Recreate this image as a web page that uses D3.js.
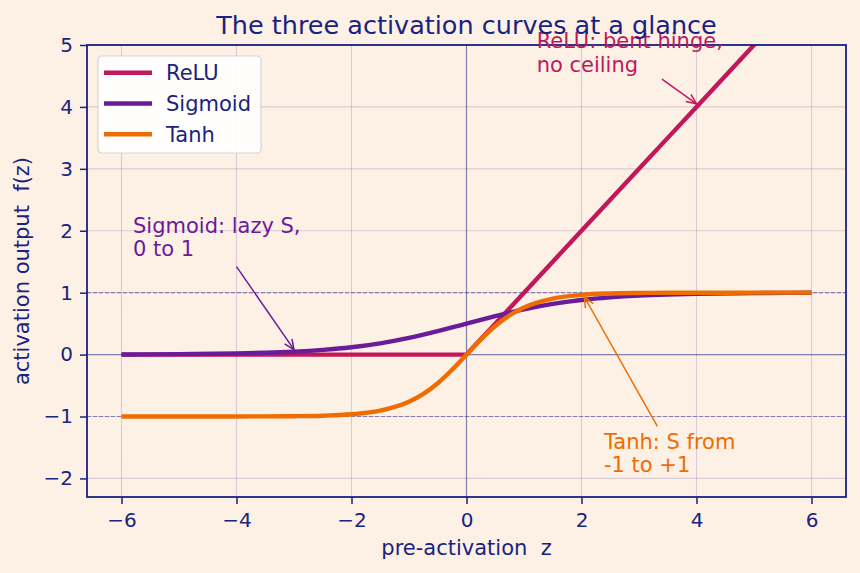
<!DOCTYPE html>
<html>
<head>
<meta charset="utf-8">
<script src="https://cdn.jsdelivr.net/npm/d3@7"></script>
<style>
  body { margin: 0; background: #fdf1e6; }
  text { font-family: "DejaVu Sans", sans-serif; white-space: pre; }
</style>
</head>
<body>
<div id="chart"></div>
<script>
// values
var zValues = [-6, -5, -4, -3.5, -3, -2.5, -2, -1.5, -1, -0.75, -0.5, -0.25, 0, 0.25, 0.5, 0.75, 1, 1.5, 2, 2.5, 3, 3.5, 4, 5, 6];
var reluValues = [0, 0, 0, 0, 0, 0, 0, 0, 0, 0, 0, 0, 0, 0.25, 0.5, 0.75, 1, 1.5, 2, 2.5, 3, 3.5, 4, 5, 6];
var sigmoidValues = [0.002, 0.007, 0.018, 0.029, 0.047, 0.076, 0.119, 0.182, 0.269, 0.321, 0.378, 0.438, 0.5, 0.562, 0.622, 0.679, 0.731, 0.818, 0.881, 0.924, 0.953, 0.971, 0.982, 0.993, 0.998];
var tanhValues = [-1.0, -1.0, -0.999, -0.998, -0.995, -0.987, -0.964, -0.905, -0.762, -0.635, -0.462, -0.245, 0, 0.245, 0.462, 0.635, 0.762, 0.905, 0.964, 0.987, 0.995, 0.998, 0.999, 1.0, 1.0];

var seriesNames = ["ReLU", "Sigmoid", "Tanh"];
var seriesColors = ["#c2185b", "#6a1b9a", "#ef6c00"];
var xTicks = [-6, -4, -2, 0, 2, 4, 6];
var yTicks = [-2, -1, 0, 1, 2, 3, 4, 5];

var svgWidth = 860;
var svgHeight = 573;
var margin = { top: 45, right: 14, bottom: 76, left: 87 };
var width = svgWidth - margin.left - margin.right;
var height = svgHeight - margin.top - margin.bottom;
var ink = "#1a237e";

var svg = d3.select("#chart")
  .append("svg")
  .attr("width", svgWidth)
  .attr("height", svgHeight);

svg.append("rect").attr("width", svgWidth).attr("height", svgHeight).attr("fill", "#fdf1e6");

var chartGroup = svg.append("g")
  .attr("transform", `translate(${margin.left}, ${margin.top})`);

var x = d3.scaleLinear().domain([-6.6, 6.6]).range([0, width]);
var y = d3.scaleLinear().domain([-2.3, 5]).range([height, 0]);

// grid
chartGroup.append("g")
  .selectAll("line")
  .data(xTicks)
  .enter()
  .append("line")
  .attr("x1", d => x(d)).attr("x2", d => x(d))
  .attr("y1", 0).attr("y2", height)
  .attr("stroke", "#8e6fa8").attr("stroke-opacity", 0.3).attr("stroke-width", 1.1);

chartGroup.append("g")
  .selectAll("line")
  .data(yTicks)
  .enter()
  .append("line")
  .attr("x1", 0).attr("x2", width)
  .attr("y1", d => y(d)).attr("y2", d => y(d))
  .attr("stroke", "#8e6fa8").attr("stroke-opacity", 0.3).attr("stroke-width", 1.1);

// reference lines
chartGroup.append("line")
  .attr("x1", 0).attr("x2", width).attr("y1", y(0)).attr("y2", y(0))
  .attr("stroke", ink).attr("stroke-opacity", 0.45).attr("stroke-width", 1.2);
chartGroup.append("line")
  .attr("x1", x(0)).attr("x2", x(0)).attr("y1", 0).attr("y2", height)
  .attr("stroke", ink).attr("stroke-opacity", 0.45).attr("stroke-width", 1.2);
[1, -1].forEach(v => {
  chartGroup.append("line")
    .attr("x1", 0).attr("x2", width).attr("y1", y(v)).attr("y2", y(v))
    .attr("stroke", ink).attr("stroke-opacity", 0.45).attr("stroke-width", 1.2)
    .attr("stroke-dasharray", "4,2");
});

// curves
svg.append("defs").append("clipPath").attr("id", "clip")
  .append("rect").attr("width", width).attr("height", height);

var smoothLine = d3.line()
  .x(d => x(d[0]))
  .y(d => y(d[1]))
  .curve(d3.curveMonotoneX);
var straightLine = d3.line()
  .x(d => x(d[0]))
  .y(d => y(d[1]));

var allSeries = [reluValues, sigmoidValues, tanhValues];
var curvesGroup = chartGroup.append("g").attr("clip-path", "url(#clip)");
allSeries.forEach((vals, i) => {
  var pts = zValues.map((z, j) => [z, vals[j]]);
  curvesGroup.append("path")
    .datum(pts)
    .attr("d", i === 0 ? straightLine : smoothLine)
    .attr("fill", "none")
    .attr("stroke", seriesColors[i])
    .attr("stroke-width", 4.4)
    .attr("stroke-linejoin", "round");
});

// axes
var fmt = d => d < 0 ? "\u2212" + Math.abs(d) : d;
var bottomAxis = d3.axisBottom(x).tickValues(xTicks).tickSize(7).tickPadding(9).tickFormat(fmt);
var leftAxis = d3.axisLeft(y).tickValues(yTicks).tickSize(7).tickPadding(7).tickFormat(fmt);

var gx = chartGroup.append("g").attr("transform", `translate(0, ${height})`).call(bottomAxis);
var gy = chartGroup.append("g").call(leftAxis);
[gx, gy].forEach(g => {
  g.select(".domain").remove();
  g.selectAll("line").attr("stroke", ink).attr("stroke-width", 1.5);
  g.selectAll("text").attr("fill", ink).attr("font-size", 20);
});

// frame
chartGroup.append("rect")
  .attr("width", width).attr("height", height)
  .attr("fill", "none").attr("stroke", ink).attr("stroke-width", 1.8);

// annotations
function annotate(lines, tx, ty, ax, ay, hx, hy, color) {
  var t = chartGroup.append("text")
    .attr("x", x(tx)).attr("y", y(ty))
    .attr("fill", color).attr("font-size", 21);
  lines.forEach((s, k) => {
    t.append("tspan").attr("x", x(tx)).attr("dy", k === 0 ? 0 : 23.5).text(s);
  });
  var x1 = x(ax), y1 = y(ay), x2 = x(hx), y2 = y(hy);
  chartGroup.append("line")
    .attr("x1", x1).attr("y1", y1).attr("x2", x2).attr("y2", y2)
    .attr("stroke", color).attr("stroke-width", 1.5);
  var ang = Math.atan2(y2 - y1, x2 - x1);
  var L = 11, w = 0.42;
  chartGroup.append("path")
    .attr("d", `M${x2 - L * Math.cos(ang - w)},${y2 - L * Math.sin(ang - w)}L${x2},${y2}L${x2 - L * Math.cos(ang + w)},${y2 - L * Math.sin(ang + w)}`)
    .attr("fill", "none").attr("stroke", color).attr("stroke-width", 1.5);
}

annotate(["ReLU: bent hinge,", "no ceiling"], 1.22, 4.95, 3.4, 4.45, 4.0, 4.05, seriesColors[0]);
annotate(["Sigmoid: lazy S,", "0 to 1"], -5.8, 1.97, -4.0, 1.42, -3.0, 0.08, seriesColors[1]);
annotate(["Tanh: S from", "-1 to +1"], 2.39, -1.52, 3.32, -1.16, 2.05, 0.93, seriesColors[2]);

// legend
var legend = chartGroup.append("g").attr("transform", "translate(11, 11)");
legend.append("rect")
  .attr("width", 163).attr("height", 97).attr("rx", 4)
  .attr("fill", "#ffffff").attr("fill-opacity", 0.9)
  .attr("stroke", "#d9d3cf").attr("stroke-width", 1.2);
seriesNames.forEach((name, i) => {
  var ly = 16.7 + i * 30.8;
  legend.append("line")
    .attr("x1", 6).attr("x2", 54).attr("y1", ly).attr("y2", ly)
    .attr("stroke", seriesColors[i]).attr("stroke-width", 4.4);
  legend.append("text")
    .attr("x", 68).attr("y", ly + 7.5)
    .attr("fill", ink).attr("font-size", 21).text(name);
});

// labels
svg.append("text")
  .attr("x", margin.left + width / 2).attr("y", 34)
  .attr("text-anchor", "middle").attr("fill", ink).attr("font-size", 25.5)
  .text("The three activation curves at a glance");

svg.append("text")
  .attr("x", margin.left + width / 2).attr("y", 555)
  .attr("text-anchor", "middle").attr("fill", ink).attr("font-size", 21)
  .text("pre-activation  z");

svg.append("text")
  .attr("transform", `translate(29, ${margin.top + height / 2}) rotate(-90)`)
  .attr("text-anchor", "middle").attr("fill", ink).attr("font-size", 21)
  .text("activation output  f(z)");
</script>
</body>
</html>
